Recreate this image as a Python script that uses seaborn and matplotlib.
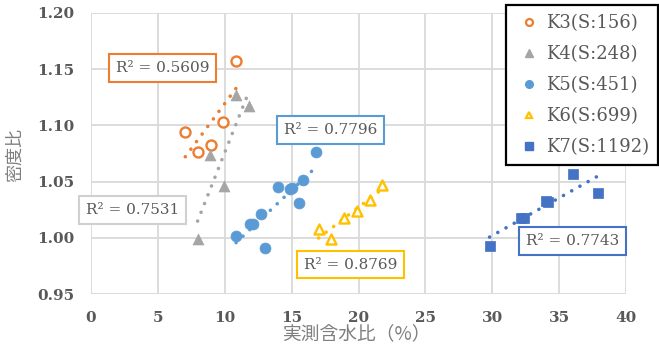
import numpy as np
import pandas as pd
import matplotlib
matplotlib.use("Agg")
import matplotlib.pyplot as plt
import seaborn as sns
from matplotlib.lines import Line2D

# ---- data ----
series_names = ["K3(S:156)", "K4(S:248)", "K5(S:451)", "K6(S:699)", "K7(S:1192)"]
k3_x = [10.85, 7.05, 9.9, 8.97, 7.98]
k3_y = [1.157, 1.094, 1.103, 1.083, 1.076]
k4_x = [10.85, 11.8, 8.92, 9.92, 7.97]
k4_y = [1.127, 1.117, 1.074, 1.046, 0.999]
k5_x = [16.83, 15.88, 14.85, 15.0, 13.98, 15.55, 12.74, 11.9, 12.1, 10.85, 13.04]
k5_y = [1.076, 1.051, 1.043, 1.044, 1.045, 1.031, 1.021, 1.012, 1.012, 1.002, 0.991]
k6_x = [17.02, 17.97, 18.92, 19.87, 20.84, 21.79]
k6_y = [1.008, 0.999, 1.018, 1.024, 1.034, 1.047]
k7_x = [29.8, 32.16, 32.36, 34.05, 34.15, 36.0, 37.92]
k7_y = [0.993, 1.018, 1.018, 1.033, 1.032, 1.057, 1.040]
r2_labels = ["R² = 0.5609", "R² = 0.7531", "R² = 0.7796", "R² = 0.8769", "R² = 0.7743"]
x_ticks = [0, 5, 10, 15, 20, 25, 30, 35, 40]
y_ticks = [0.95, 1.00, 1.05, 1.10, 1.15, 1.20]

colors = ["#ED7D31", "#A5A5A5", "#5B9BD5", "#FFC000", "#4472C4"]
box_edges = ["#ED7D31", "#D0D0D0", "#5B9BD5", "#FFC000", "#4472C4"]
markers = ["o", "^", "o", "^", "s"]
filled = [False, True, True, False, True]
box_pos = [(5.33, 1.151), (3.09, 1.0247), (17.9, 1.096), (19.4, 0.9762), (36.0, 0.9972)]

xs = [k3_x, k4_x, k5_x, k6_x, k7_x]
ys = [k3_y, k4_y, k5_y, k6_y, k7_y]

sns.set_theme(style="white")
plt.rcParams['font.family'] = ['DejaVu Serif', 'Noto Sans CJK JP']

fig = plt.figure(figsize=(6.59, 3.44), dpi=100)
ax = fig.add_axes([91/659, 1 - 294/344, (626-91)/659, (294-13)/344])

for i in range(5):
    df = pd.DataFrame({"x": xs[i], "y": ys[i]})
    sns.regplot(data=df, x="x", y="y", ax=ax, scatter=False, ci=None,
                line_kws=dict(color=colors[i], lw=2.6, ls=(0, (0.01, 2.6)),
                              dash_capstyle="round", zorder=2))
    if filled[i]:
        sns.scatterplot(data=df, x="x", y="y", ax=ax, marker=markers[i],
                        color=colors[i], s=62, edgecolor=colors[i], linewidth=0.5, zorder=3)
    else:
        sns.scatterplot(data=df, x="x", y="y", ax=ax, marker=markers[i],
                        facecolor="white", edgecolor=colors[i], s=52, linewidth=1.7, zorder=3)

for i in range(5):
    ax.text(box_pos[i][0], box_pos[i][1], r2_labels[i], ha="center", va="center",
            fontsize=11, color="#595959", family="DejaVu Serif", zorder=5,
            bbox=dict(boxstyle="square,pad=0.45", fc="white", ec=box_edges[i], lw=1.5))

ax.set_xlim(0, 40)
ax.set_ylim(0.95, 1.20)
ax.set_xticks(x_ticks)
ax.set_yticks(y_ticks)
ax.set_xticklabels([str(t) for t in x_ticks])
ax.set_yticklabels([f"{t:.2f}" for t in y_ticks])
for lab in ax.get_xticklabels() + ax.get_yticklabels():
    lab.set_fontweight("bold")
    lab.set_fontsize(11)
    lab.set_color("#595959")
ax.tick_params(axis="both", length=0, pad=12)
ax.grid(True, color="#D9D9D9", lw=1.3)
for s in ax.spines.values():
    s.set_visible(False)
ax.set_axisbelow(True)
ax.set_xlabel("")
ax.set_ylabel("")

fig.text(356/659, 1 - 334/344, "実測含水比（%）", ha="center", va="center",
         fontsize=13.5, color="#7F7F7F", family="Noto Sans CJK JP")
fig.text(15/659, 1 - 155/344, "密度比", ha="center", va="center", rotation=90,
         fontsize=13, color="#7F7F7F", family="Noto Sans CJK JP")

handles = []
for i in range(5):
    if filled[i]:
        h = Line2D([], [], ls="none", marker=markers[i], color=colors[i], markersize=5.5)
    else:
        h = Line2D([], [], ls="none", marker=markers[i], markerfacecolor="white",
                   markeredgecolor=colors[i], markeredgewidth=1.6, markersize=5)
    handles.append(h)
leg = fig.legend(handles, series_names, loc="upper right",
                 bbox_to_anchor=(658/659, 1 - 5/344), fontsize=13,
                 frameon=True, fancybox=False, framealpha=1, edgecolor="black",
                 handletextpad=0.2, handlelength=1.5, labelspacing=0.72,
                 borderpad=0.5, borderaxespad=0)
leg.get_frame().set_linewidth(1.6)
for t in leg.get_texts():
    t.set_color("#595959")

fig.savefig("out.png", dpi=100)
